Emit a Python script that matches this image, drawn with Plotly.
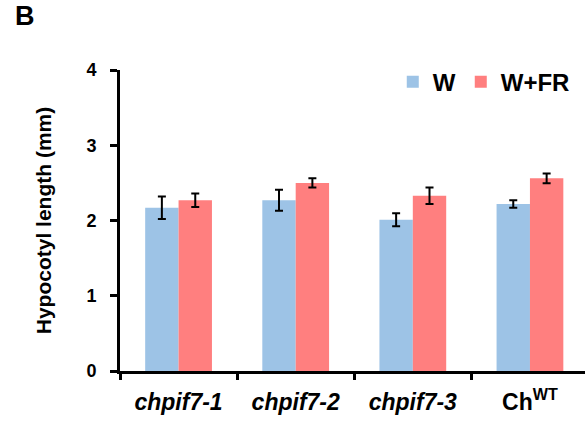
import plotly.graph_objects as go

categories = ["<i>chpif7-1</i>", "<i>chpif7-2</i>", "<i>chpif7-3</i>", "Ch<sup>WT</sup>"]
w_vals = [2.17, 2.27, 2.01, 2.22]
w_err = [0.15, 0.14, 0.085, 0.05]
wfr_vals = [2.27, 2.50, 2.33, 2.56]
wfr_err = [0.09, 0.06, 0.11, 0.065]

FONT = "Liberation Sans"

fig = go.Figure()
fig.add_trace(go.Bar(
    x=categories, y=w_vals, name="<b>W</b>",
    marker=dict(color="#9DC3E6", line=dict(width=0)),
    error_y=dict(type="data", array=w_err, color="black", thickness=2, width=4),
))
fig.add_trace(go.Bar(
    x=categories, y=wfr_vals, name="<b>W+FR</b>",
    marker=dict(color="#FF7F7F", line=dict(width=0)),
    error_y=dict(type="data", array=wfr_err, color="black", thickness=2, width=4),
))

fig.update_layout(
    width=585, height=421,
    margin=dict(l=120, r=0, t=70, b=50),
    plot_bgcolor="white", paper_bgcolor="white",
    barmode="group", bargap=0.43, bargroupgap=0,
    font=dict(family=FONT, color="black"),
    showlegend=True,
    legend=dict(orientation="h", x=0.978, xanchor="right", y=0.96, yanchor="middle",
                font=dict(size=24, family=FONT, color="black"),
                itemwidth=30, tracegroupgap=0, bgcolor="rgba(0,0,0,0)"),
    xaxis=dict(
        type="category", range=[-0.5, 3.47],
        tickvals=categories, ticktext=["<b>" + c + "</b>" for c in categories],
        showline=True, linecolor="black", linewidth=3,
        ticks="outside", tickson="boundaries", ticklen=6, tickwidth=3, tickcolor="black",
        tickfont=dict(size=23, family=FONT, color="black"),
        ticklabelstandoff=8,
        showgrid=False, zeroline=False,
    ),
    yaxis=dict(
        range=[0, 4], tickvals=[0, 1, 2, 3, 4],
        ticktext=["<b>0</b>", "<b>1</b>", "<b>2</b>", "<b>3</b>", "<b>4</b>"],
        showline=True, linecolor="black", linewidth=3,
        ticks="outside", ticklen=7, tickwidth=3, tickcolor="black",
        tickfont=dict(size=18, family=FONT, color="black"),
        ticklabelstandoff=10,
        showgrid=False, zeroline=False,
        title=dict(text="<b>Hypocotyl length (mm)</b>", font=dict(size=21, family=FONT, color="black"), standoff=30),
    ),
)

fig.add_annotation(text="<b>B</b>", xref="paper", yref="paper", x=-0.23, y=1.235,
                   xanchor="left", yanchor="top", showarrow=False,
                   font=dict(size=27, family=FONT, color="black"))

fig.write_html("out.html")
